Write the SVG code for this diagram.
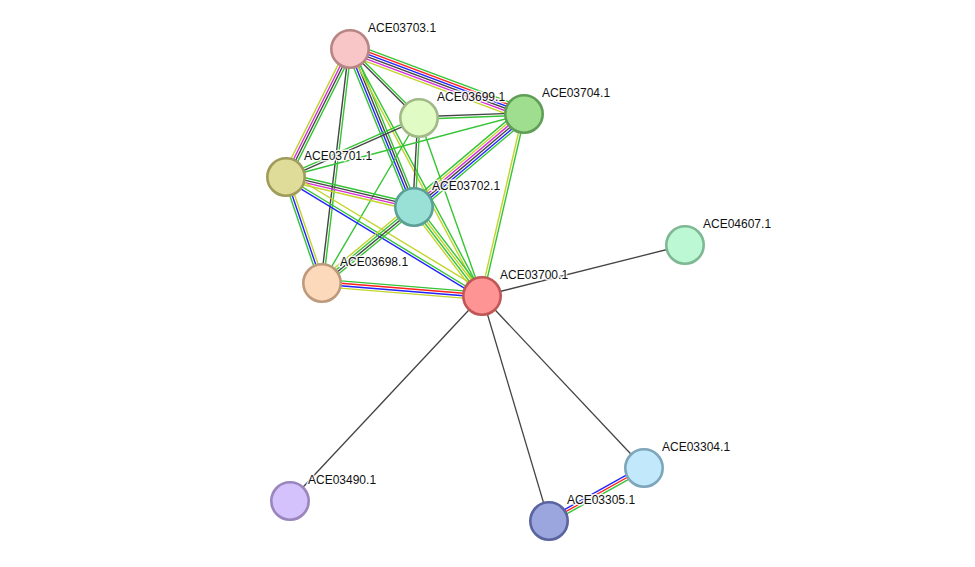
<svg xmlns="http://www.w3.org/2000/svg" width="975" height="567" viewBox="0 0 975 567">
<style>
line{stroke-width:1.4;fill:none}
.g{stroke:#35c435}.r{stroke:#ff2020}.b{stroke:#2222ff}.k{stroke:#454545}.m{stroke:#d82cd8}.y{stroke:#c4d42c}
.s line{stroke:#444;stroke-width:1.3}
circle{stroke-width:2.6}
text{font-family:"Liberation Sans",Arial,sans-serif;font-size:12px;fill:#111;stroke:#fff;stroke-width:3;stroke-opacity:0.85;paint-order:stroke;stroke-linejoin:round}
</style>
<rect width="975" height="567" fill="#fff"/>
<g id="connectors">
<g transform="translate(350,49) rotate(20.48)"><line class="g" x2="185.7" y1="-6" y2="-6"/><line class="r" x2="185.7" y1="-3.6" y2="-3.6"/><line class="b" x2="185.7" y1="-1.2" y2="-1.2"/><line class="k" x2="185.7" y1="1.2" y2="1.2"/><line class="m" x2="185.7" y1="3.6" y2="3.6"/><line class="y" x2="185.7" y1="6" y2="6"/></g>
<g transform="translate(350,49) rotate(45)"><line class="g" x2="97.6" y1="-1.2" y2="-1.2"/><line class="k" x2="97.6" y1="1.2" y2="1.2"/></g>
<g transform="translate(350,49) rotate(116.57)"><line class="g" x2="143.1" y1="-3.6" y2="-3.6"/><line class="k" x2="143.1" y1="-1.2" y2="-1.2"/><line class="m" x2="143.1" y1="1.2" y2="1.2"/><line class="y" x2="143.1" y1="3.6" y2="3.6"/></g>
<g transform="translate(350,49) rotate(96.82)"><line class="g" x2="235.7" y1="-1.2" y2="-1.2"/><line class="k" x2="235.7" y1="1.2" y2="1.2"/></g>
<g transform="translate(350,49) rotate(67.95)"><line class="g" x2="170.5" y1="-3.6" y2="-3.6"/><line class="k" x2="170.5" y1="-1.2" y2="-1.2"/><line class="b" x2="170.5" y1="1.2" y2="1.2"/><line class="g" x2="170.5" y1="3.6" y2="3.6"/></g>
<g transform="translate(350,49) rotate(61.88)"><line class="g" x2="280.1" y1="-1.2" y2="-1.2"/><line class="y" x2="280.1" y1="1.2" y2="1.2"/></g>
<g transform="translate(419,118) rotate(-2.18)"><line class="k" x2="105.1" y1="-1.2" y2="-1.2"/><line class="g" x2="105.1" y1="1.2" y2="1.2"/></g>
<g transform="translate(419,118) rotate(156.08)"><line class="k" x2="145.5" y1="-1.2" y2="-1.2"/><line class="g" x2="145.5" y1="1.2" y2="1.2"/></g>
<g transform="translate(419,118) rotate(93.22)"><line class="g" x2="89.1" y1="-1.2" y2="-1.2"/><line class="k" x2="89.1" y1="1.2" y2="1.2"/></g>
<g transform="translate(419,118) rotate(120.45)"><line class="g" x2="191.4"/></g>
<g transform="translate(419,118) rotate(70.51)"><line class="g" x2="188.8"/></g>
<g transform="translate(524,114) rotate(165.17)"><line class="g" x2="246.2"/></g>
<g transform="translate(524,114) rotate(139.79)"><line class="g" x2="144" y1="-6" y2="-6"/><line class="b" x2="144" y1="-3.6" y2="-3.6"/><line class="k" x2="144" y1="-1.2" y2="-1.2"/><line class="m" x2="144" y1="1.2" y2="1.2"/><line class="y" x2="144" y1="3.6" y2="3.6"/><line class="g" x2="144" y1="6" y2="6"/></g>
<g transform="translate(524,114) rotate(103)"><line class="g" x2="186.8" y1="-1.2" y2="-1.2"/><line class="y" x2="186.8" y1="1.2" y2="1.2"/></g>
<g transform="translate(286,177) rotate(13.19)"><line class="g" x2="131.5" y1="-3.6" y2="-3.6"/><line class="k" x2="131.5" y1="-1.2" y2="-1.2"/><line class="m" x2="131.5" y1="1.2" y2="1.2"/><line class="y" x2="131.5" y1="3.6" y2="3.6"/></g>
<g transform="translate(286,177) rotate(71.24)"><line class="y" x2="111.9" y1="-2.4" y2="-2.4"/><line class="b" x2="111.9"/><line class="g" x2="111.9" y1="2.4" y2="2.4"/></g>
<g transform="translate(286,177) rotate(31.26)"><line class="y" x2="229.3" y1="-5" y2="-5"/><line class="g" x2="229.3" y1="0" y2="0"/><line class="b" x2="229.3" y1="2.4" y2="2.4"/></g>
<g transform="translate(414,207) rotate(52.62)"><line class="g" x2="112" y1="-3.6" y2="-3.6"/><line class="y" x2="112" y1="-1.2" y2="-1.2"/><line class="g" x2="112" y1="1.2" y2="1.2"/><line class="y" x2="112" y1="3.6" y2="3.6"/></g>
<g transform="translate(414,207) rotate(140.44)"><line class="g" x2="119.3" y1="-3.6" y2="-3.6"/><line class="k" x2="119.3" y1="-1.2" y2="-1.2"/><line class="g" x2="119.3" y1="1.2" y2="1.2"/><line class="y" x2="119.3" y1="3.6" y2="3.6"/></g>
<g transform="translate(322,283) rotate(4.65)"><line class="g" x2="160.5" y1="-3.6" y2="-3.6"/><line class="r" x2="160.5" y1="-1.2" y2="-1.2"/><line class="b" x2="160.5" y1="1.2" y2="1.2"/><line class="y" x2="160.5" y1="3.6" y2="3.6"/></g>
<g transform="translate(644,468) rotate(150.84)"><line class="b" x2="108.8" y1="2.4" y2="2.4"/><line class="r" x2="108.8"/><line class="g" x2="108.8" y1="-2.4" y2="-2.4"/></g>
<g class="s">
<line x1="482" y1="296" x2="685" y2="245"/>
<line x1="482" y1="296" x2="644" y2="468"/>
<line x1="482" y1="296" x2="549" y2="521"/>
<line x1="482" y1="296" x2="290" y2="501"/>
</g>
</g>
<g id="ACE03703.1"><circle cx="350" cy="49" r="18.7" fill="#f8c6c6" stroke="#b88585"/><text x="368" y="32">ACE03703.1</text></g>
<g id="ACE03699.1"><circle cx="419" cy="118" r="18.7" fill="#e1fbc4" stroke="#a1b987"/><text x="437" y="101">ACE03699.1</text></g>
<g id="ACE03704.1"><circle cx="524" cy="114" r="18.7" fill="#9fde8e" stroke="#5f9e57"/><text x="542" y="97">ACE03704.1</text></g>
<g id="ACE03701.1"><circle cx="286" cy="177" r="18.7" fill="#dedc98" stroke="#9f9c5b"/><text x="304" y="160">ACE03701.1</text></g>
<g id="ACE03702.1"><circle cx="414" cy="207" r="18.7" fill="#99e0d6" stroke="#5b9f97"/><text x="432" y="190">ACE03702.1</text></g>
<g id="ACE03698.1"><circle cx="322" cy="283" r="18.7" fill="#fdd9bb" stroke="#bd9a7d"/><text x="340" y="266">ACE03698.1</text></g>
<g id="ACE03700.1"><circle cx="482" cy="296" r="18.7" fill="#ff9494" stroke="#c05656"/><text x="500" y="279">ACE03700.1</text></g>
<g id="ACE04607.1"><circle cx="685" cy="245" r="18.7" fill="#bdf8d4" stroke="#7fb894"/><text x="703" y="228">ACE04607.1</text></g>
<g id="ACE03304.1"><circle cx="644" cy="468" r="18.7" fill="#c2e8fb" stroke="#7ea6bb"/><text x="662" y="451">ACE03304.1</text></g>
<g id="ACE03305.1"><circle cx="549" cy="521" r="18.7" fill="#9ba6de" stroke="#5a649f"/><text x="567" y="504">ACE03305.1</text></g>
<g id="ACE03490.1"><circle cx="290" cy="501" r="18.7" fill="#d4c2fc" stroke="#9a86bd"/><text x="308" y="484">ACE03490.1</text></g>
</svg>
